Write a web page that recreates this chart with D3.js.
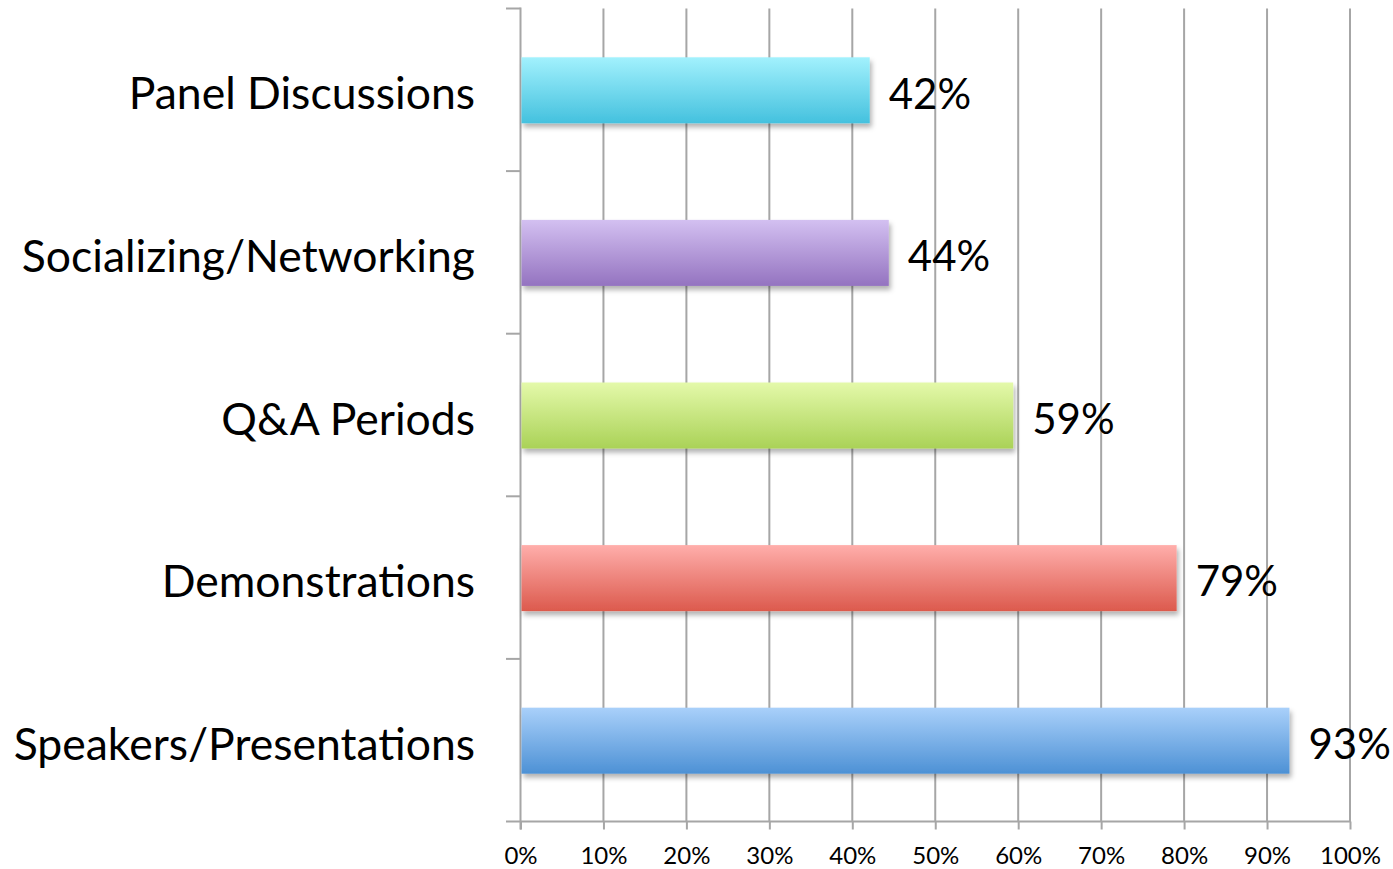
<!DOCTYPE html>
<html>
<head>
<meta charset="utf-8">
<script src="https://cdn.jsdelivr.net/npm/d3@7"></script>
<style>
    body { margin: 0; background: #fff; }
    svg text { font-family: Lato, "Open Sans", sans-serif; fill: #000; }
</style>
</head>
<body>
<div id="chart-area"></div>
<script>
const WIDTH = 1393;
const HEIGHT = 869;
const AXIS_COLOR = '#a6a6a6';

// data, top to bottom as drawn
const categories = ["Panel Discussions", "Socializing/Networking", "Q&A Periods", "Demonstrations", "Speakers/Presentations"];
const values = [42.1, 44.4, 59.4, 79.1, 92.7];
const tickValues = [0, 10, 20, 30, 40, 50, 60, 70, 80, 90, 100];
const gradTop = ["#a2f1fd", "#d3c0f1", "#e4f9aa", "#ffaeab", "#a9d0fa"];
const gradBottom = ["#44c1de", "#9473c0", "#aad257", "#dc5a4d", "#4d91d5"];

const data = categories.map((c, i) => ({ name: c, value: values[i], top: gradTop[i], bottom: gradBottom[i], idx: i }));

const svg = d3.select("#chart-area").append("svg")
    .attr("width", WIDTH)
    .attr("height", HEIGHT);

const defs = svg.append("defs");
data.forEach(d => {
    const g = defs.append("linearGradient")
        .attr("id", "grad" + d.idx)
        .attr("x1", "0%").attr("y1", "0%")
        .attr("x2", "0%").attr("y2", "100%");
    g.append("stop").attr("offset", "0%").attr("stop-color", d.top);
    g.append("stop").attr("offset", "100%").attr("stop-color", d.bottom);
});
defs.append("filter")
    .attr("id", "shadow")
    .attr("x", "-5%").attr("y", "-20%")
    .attr("width", "115%").attr("height", "160%")
    .append("feDropShadow")
    .attr("dx", 2).attr("dy", 4)
    .attr("stdDeviation", 2.5)
    .attr("flood-color", "#000")
    .attr("flood-opacity", 0.3);

const x = d3.scaleLinear()
    .domain([0, 100])
    .range([520.5, 1350]);

const y = d3.scaleBand()
    .domain(categories)
    .range([8.5, 821.5])
    .padding(0);

const plotTop = y.range()[0];
const plotBottom = y.range()[1];

// vertical grid lines
svg.append("g")
    .selectAll("line")
    .data(tickValues.slice(1))
    .enter()
    .append("line")
    .attr("x1", d => x(d)).attr("x2", d => x(d))
    .attr("y1", plotTop).attr("y2", plotBottom)
    .attr("stroke", AXIS_COLOR)
    .attr("stroke-width", 2);

// x axis
const xAxis = svg.append("g")
    .attr("transform", "translate(0," + plotBottom + ")")
    .call(d3.axisBottom(x)
        .tickValues(tickValues)
        .tickSize(8)
        .tickSizeOuter(0)
        .tickPadding(17)
        .tickFormat(d => d + "%"));
xAxis.select(".domain").remove();
xAxis.selectAll(".tick line").attr("stroke", AXIS_COLOR).attr("stroke-width", 2);
xAxis.selectAll(".tick text").style("font-size", "24px").attr("fill", "#000");
xAxis.append("line")
    .attr("x1", 506).attr("x2", x(100) + 1)
    .attr("stroke", AXIS_COLOR)
    .attr("stroke-width", 2);

// y axis with ticks at band boundaries
const yAxis = svg.append("g");
yAxis.append("line")
    .attr("x1", x(0)).attr("x2", x(0))
    .attr("y1", plotTop - 1).attr("y2", plotBottom + 8)
    .attr("stroke", AXIS_COLOR)
    .attr("stroke-width", 2);
yAxis.selectAll(".btick")
    .data(categories)
    .enter()
    .append("line")
    .attr("x1", 506).attr("x2", x(0))
    .attr("y1", d => y(d)).attr("y2", d => y(d))
    .attr("stroke", AXIS_COLOR)
    .attr("stroke-width", 2);

const barH = y.bandwidth() * 0.406;

svg.append("g")
    .selectAll("rect")
    .data(data)
    .enter()
    .append("rect")
    .attr("x", x(0) + 1)
    .attr("y", d => y(d.name) + (y.bandwidth() - barH) / 2 + 0.5)
    .attr("width", d => x(d.value) - x(0) - 1)
    .attr("height", barH)
    .attr("fill", d => "url(#grad" + d.idx + ")")
    .attr("filter", "url(#shadow)");

// value labels
svg.append("g")
    .selectAll("text")
    .data(data)
    .enter()
    .append("text")
    .attr("x", d => x(d.value) + 19)
    .attr("y", d => y(d.name) + y.bandwidth() / 2 + 4)
    .attr("dy", "0.35em")
    .style("font-size", "42px")
    .text(d => Math.round(d.value) + "%");

// category labels
svg.append("g")
    .selectAll("text")
    .data(data)
    .enter()
    .append("text")
    .attr("x", 475)
    .attr("y", d => y(d.name) + y.bandwidth() / 2 + 4)
    .attr("dy", "0.35em")
    .attr("text-anchor", "end")
    .style("font-size", "44.5px")
    .text(d => d.name);
</script>
</body>
</html>
